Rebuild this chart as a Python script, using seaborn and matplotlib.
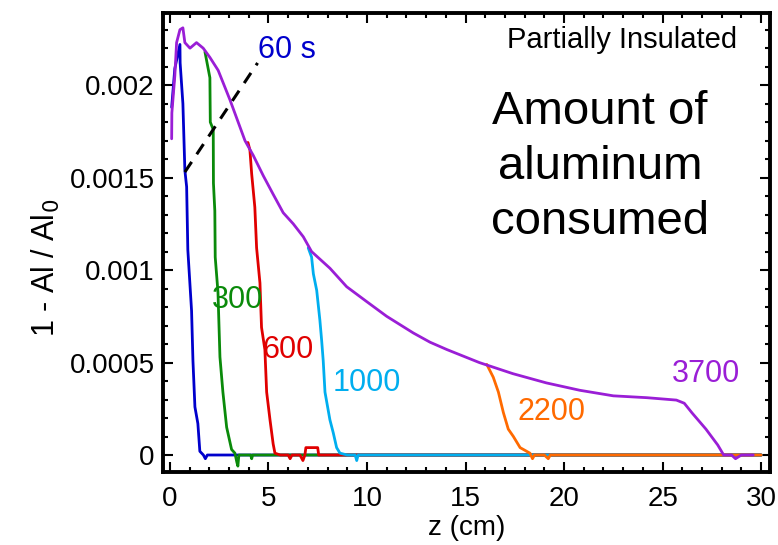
import numpy as np
import pandas as pd
import matplotlib
matplotlib.use('Agg')
import matplotlib.pyplot as plt
import seaborn as sns
from matplotlib.ticker import MultipleLocator

# profiliai: z (cm) ir 1 - Al/Al0 kiekvienam laikui
laikai = ['60', '300', '600', '1000', '2200', '3700']
spalvos = ['#0000cc', '#0a8a0a', '#e00000', '#00aeef', '#ff6a00', '#9a1ed6']

z_60 = [0.09, 0.25, 0.51, 0.52, 0.66, 0.76, 0.85, 0.91, 1.10, 1.17, 1.27, 1.42, 1.52,
        1.7, 1.8, 1.9, 2.1, 2.5, 3.05, 30.0]
y_60 = [0.00188, 0.00209, 0.00222, 0.00212, 0.0019, 0.00154, 0.00145, 0.00111, 0.00078,
        0.00051, 0.00026, 0.00017, 0.00002, 0.0, -0.00002, 0.0, 0.0, 0.0, 0.0, 0.0]

z_300 = [1.78, 2.03, 2.05, 2.2, 2.21, 2.28, 2.3, 2.44, 2.54, 2.69, 2.88, 3.13, 3.3,
         3.4, 3.45, 3.5, 3.7, 4.1, 4.15, 4.2, 30.0]
y_300 = [0.00218, 0.00204, 0.0018, 0.00176, 0.00147, 0.00132, 0.00107, 0.00088, 0.00053,
         0.00034, 0.00015, 0.00003, 0.00001, -0.00004, -0.00006, 0.0, 0.0, 0.0, -0.00002, 0.0, 0.0]

z_600 = [3.96, 4.06, 4.15, 4.31, 4.40, 4.57, 4.65, 4.82, 4.91, 5.08, 5.24, 5.33, 5.6, 6.0,
         6.1, 6.2, 6.6, 6.75, 6.85, 6.9, 7.5, 7.55, 8.0, 30.0]
y_600 = [0.00169, 0.00165, 0.00152, 0.00134, 0.00112, 0.00093, 0.00069, 0.00057, 0.00034, 0.00019,
         0.00006, 0.00001, 0.0, 0.0, -0.00002, 0.0, 0.0, -0.00003, 0.0, 0.00004, 0.00004, 0.0,
         0.0, 0.0]

z_1000 = [7.02, 7.19, 7.28, 7.45, 7.61, 7.7, 7.78, 7.87, 8.12, 8.29, 8.46, 8.63, 9.0, 9.4, 9.48,
          9.55, 10.0, 30.0]
y_1000 = [0.00112, 0.00107, 0.00098, 0.00089, 0.00073, 0.00062, 0.00051, 0.00034, 0.00019,
          0.00012, 0.00004, 0.00001, 0.0, 0.0, -0.00003, 0.0, 0.0, 0.0]

z_2200 = [16.08, 16.41, 16.67, 16.92, 17.17, 17.43, 17.77, 18.27, 18.4, 18.5, 19.0, 19.2,
          19.3, 30.0]
y_2200 = [0.00049, 0.00042, 0.00034, 0.00023, 0.00014, 0.0001, 0.00004, 0.00001, -0.00002,
          0.0, 0.0, -0.00002, 0.0, 0.0]

z_3700 = [0.09, 0.1, 0.25, 0.34, 0.51, 0.66, 0.76, 1.02, 1.35, 1.69, 2.03, 2.45, 3.05, 3.81,
          4.23, 4.74, 5.24, 5.75, 6.26, 6.77, 7.19, 8.12, 8.97, 9.98, 11.0, 12.35, 13.2, 14.06,
          15.7, 17.4, 19.1, 20.8, 22.5, 24.2, 25.7, 26.1, 26.5, 27.2, 27.8, 28.1, 28.5, 28.7,
          29.0, 29.6]
y_3700 = [0.00171, 0.00185, 0.00205, 0.00223, 0.0023, 0.00231, 0.00223, 0.0022, 0.00223,
          0.0022, 0.00215, 0.00208, 0.00192, 0.0017, 0.00162, 0.00151, 0.00141, 0.00131,
          0.00125, 0.00118, 0.0011, 0.00101, 0.00091, 0.00083, 0.00075, 0.00066, 0.00061,
          0.00057, 0.0005, 0.00044, 0.00039, 0.00035, 0.00032, 0.00031, 0.000297, 0.00028,
          0.000227, 0.00014, 0.000054, 0.0, 0.0, -0.00002, 0.0, 0.0]

# etiketės prie kreivių
etiketes = ['60 s', '300', '600', '1000', '2200', '3700']
etikeciu_z = [4.47, 2.13, 4.72, 8.27, 17.66, 25.48]
etikeciu_y = [0.00219, 0.00084, 0.00057, 0.00039, 0.00023, 0.00044]

# punktyrinė linija nuo 60 s kreivės
bruksnys_z = [0.76, 4.45]
bruksnys_y = [0.00153, 0.00212]

zs = [z_60, z_300, z_600, z_1000, z_2200, z_3700]
ys = [y_60, y_300, y_600, y_1000, y_2200, y_3700]
df = pd.concat([pd.DataFrame({'z': z, 'y': y, 'laikas': t}) for z, y, t in zip(zs, ys, laikai)],
               ignore_index=True)

sns.set_style('ticks')
plt.rcParams['font.family'] = ['Liberation Sans', 'DejaVu Sans']
plt.rcParams.update({'text.color': 'black', 'axes.labelcolor': 'black',
                     'xtick.color': 'black', 'ytick.color': 'black',
                     'axes.edgecolor': 'black'})

fig = plt.figure(figsize=(7.78, 5.45), dpi=100)
ax = fig.add_axes([0.2095, 0.1339, 0.7802, 0.8422])

sns.lineplot(data=df, x='z', y='y', hue='laikas', hue_order=laikai,
             palette=dict(zip(laikai, spalvos)), sort=False, estimator=None,
             linewidth=2.0, legend=False, ax=ax)

ax.plot(bruksnys_z, bruksnys_y, color='black', linestyle=(0, (4, 3)), linewidth=2.2)

for tekstas, zx, yy, c in zip(etiketes, etikeciu_z, etikeciu_y, spalvos):
    ax.text(zx, yy, tekstas, color=c, fontsize=22, ha='left', va='center')

ax.text(0.946, 0.941, 'Partially Insulated', transform=ax.transAxes,
        fontsize=21, ha='right', va='center')
ax.text(0.72, 0.664, 'Amount of\naluminum\nconsumed', transform=ax.transAxes,
        fontsize=34, ha='center', va='center', linespacing=1.33)

ax.set_xlim(-0.35, 30.45)
ax.set_ylim(-0.000092, 0.00239)
ax.xaxis.set_major_locator(MultipleLocator(5))
ax.xaxis.set_minor_locator(MultipleLocator(1))
ax.yaxis.set_minor_locator(MultipleLocator(0.0001))
ax.set_yticks([0, 0.0005, 0.001, 0.0015, 0.002])
ax.set_yticklabels(['0', '0.0005', '0.001', '0.0015', '0.002'])

ax.tick_params(which='both', direction='in', top=True, right=True, width=1.5,
               labelsize=20, pad=6)
ax.tick_params(axis='x', which='major', pad=10)
ax.tick_params(which='major', length=7)
ax.tick_params(which='minor', length=3.5)
for s in ax.spines.values():
    s.set_linewidth(2.8)

ax.set_xlabel('z (cm)', fontsize=20, labelpad=2)
ax.set_ylabel('1 - Al / Al$_0$', fontsize=22)
ax.yaxis.set_label_coords(-0.166, 0.444)

fig.savefig('out.png', dpi=100)
